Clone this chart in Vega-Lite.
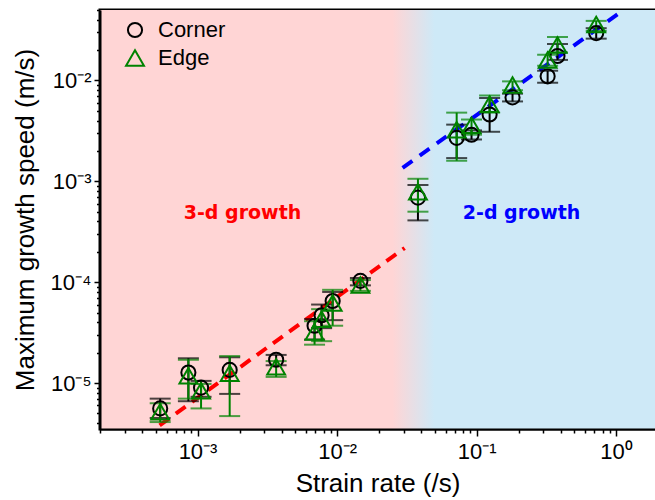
{
  "$schema": "https://vega.github.io/schema/vega-lite/v6.json",
  "width": 555,
  "height": 419,
  "autosize": "none",
  "padding": {"left": 100, "top": 10, "right": 0, "bottom": 71},
  "background": "white",
  "config": {"view": {"stroke": "black", "strokeWidth": 3}, "font": "Liberation Sans"},
  "datasets": {
    "pts": [
      {"series": "Corner", "x": 0.00054, "y": 0.0000056, "lo": 0.0000045, "hi": 0.000007},
      {"series": "Corner", "x": 0.00086, "y": 0.0000127, "lo": 0.0000066, "hi": 0.0000176},
      {"series": "Corner", "x": 0.00106, "y": 0.000009, "lo": 0.0000073, "hi": 0.0000105},
      {"series": "Corner", "x": 0.0017, "y": 0.0000135, "lo": 0.0000078, "hi": 0.000018},
      {"series": "Corner", "x": 0.00366, "y": 0.000017, "lo": 0.000015, "hi": 0.000019},
      {"series": "Corner", "x": 0.0069, "y": 0.000037, "lo": 0.000027, "hi": 0.000043},
      {"series": "Corner", "x": 0.00775, "y": 0.000047, "lo": 0.000035, "hi": 0.00006},
      {"series": "Corner", "x": 0.0093, "y": 0.000065, "lo": 0.000042, "hi": 0.00008},
      {"series": "Corner", "x": 0.0147, "y": 0.000103, "lo": 0.000093, "hi": 0.00011},
      {"series": "Corner", "x": 0.038, "y": 0.00069, "lo": 0.00041, "hi": 0.00092},
      {"series": "Corner", "x": 0.072, "y": 0.0027, "lo": 0.0017, "hi": 0.00365},
      {"series": "Corner", "x": 0.092, "y": 0.0029, "lo": 0.0026, "hi": 0.0032},
      {"series": "Corner", "x": 0.124, "y": 0.0046, "lo": 0.0031, "hi": 0.0067},
      {"series": "Corner", "x": 0.181, "y": 0.0068, "lo": 0.0062, "hi": 0.0074},
      {"series": "Corner", "x": 0.323, "y": 0.011, "lo": 0.0095, "hi": 0.0125},
      {"series": "Corner", "x": 0.38, "y": 0.0175, "lo": 0.016, "hi": 0.023},
      {"series": "Corner", "x": 0.72, "y": 0.0295, "lo": 0.026, "hi": 0.033},
      {"series": "Edge", "x": 0.00054, "y": 0.0000052, "lo": 0.0000041, "hi": 0.0000063},
      {"series": "Edge", "x": 0.00086, "y": 0.0000118, "lo": 0.000007, "hi": 0.000017},
      {"series": "Edge", "x": 0.00106, "y": 0.0000084, "lo": 0.0000056, "hi": 0.0000098},
      {"series": "Edge", "x": 0.0017, "y": 0.0000125, "lo": 0.0000047, "hi": 0.0000185},
      {"series": "Edge", "x": 0.00366, "y": 0.0000145, "lo": 0.0000115, "hi": 0.0000165},
      {"series": "Edge", "x": 0.0069, "y": 0.000032, "lo": 0.000024, "hi": 0.000041},
      {"series": "Edge", "x": 0.00775, "y": 0.000043, "lo": 0.000026, "hi": 0.000054},
      {"series": "Edge", "x": 0.0093, "y": 0.000062, "lo": 0.000037, "hi": 0.000084},
      {"series": "Edge", "x": 0.0147, "y": 0.000094, "lo": 0.000082, "hi": 0.000105},
      {"series": "Edge", "x": 0.038, "y": 0.00079, "lo": 0.0005, "hi": 0.00106},
      {"series": "Edge", "x": 0.072, "y": 0.00325, "lo": 0.0016, "hi": 0.0048},
      {"series": "Edge", "x": 0.092, "y": 0.0036, "lo": 0.0029, "hi": 0.0041},
      {"series": "Edge", "x": 0.124, "y": 0.0058, "lo": 0.0048, "hi": 0.0071},
      {"series": "Edge", "x": 0.181, "y": 0.009, "lo": 0.008, "hi": 0.0098},
      {"series": "Edge", "x": 0.323, "y": 0.016, "lo": 0.014, "hi": 0.018},
      {"series": "Edge", "x": 0.38, "y": 0.0225, "lo": 0.019, "hi": 0.027},
      {"series": "Edge", "x": 0.72, "y": 0.036, "lo": 0.031, "hi": 0.039}
    ]
  },
  "layer": [
    {
      "data": {"values": [{"x": 0.0002, "x2": 0.0256}]},
      "mark": {"type": "rect", "fill": "#ffd5d5"},
      "encoding": {
        "x": {
          "field": "x", "type": "quantitative", "title": "Strain rate (/s)",
          "scale": {"type": "log", "domain": [0.0002, 1.9], "nice": false},
          "axis": {
            "title": "Strain rate (/s)", "titleFont": "Liberation Sans", "titleFontSize": 26, "titleFontWeight": "normal", "titleColor": "black", "titlePadding": 8,
            "values": [0.0002,0.0003,0.0004,0.0005,0.0006,0.0007,0.0008,0.0009,0.001,0.002,0.003,0.004,0.005,0.006,0.007,0.008,0.009,0.01,0.02,0.03,0.04,0.05,0.06,0.07,0.08,0.09,0.1,0.2,0.3,0.4,0.5,0.6,0.7,0.8,0.9,1],
            "labelExpr": "abs(log(datum.value)/LN10 - round(log(datum.value)/LN10)) < 0.001 ? ['10⁻⁶','10⁻⁵','10⁻⁴','10⁻³','10⁻²','10⁻¹','10⁰'][round(log(datum.value)/LN10)+6] : ''",
            "labelFont": "Liberation Sans", "labelFontSize": 22, "labelColor": "black", "labelPadding": 5, "labelOverlap": false, "labelFlush": false, "labelBound": false,
            "tickSize": {"condition": {"test": "abs(log(datum.value)/LN10 - round(log(datum.value)/LN10)) < 0.001", "value": 7}, "value": 4},
            "tickColor": "black", "tickWidth": 1.5, "domainColor": "black", "domainWidth": 2, "grid": false, "zindex": 1
          }
        },
        "x2": {"field": "x2"}
      }
    },
    {
      "data": {"values": [{"x": 0.049, "x2": 1.9}]},
      "mark": {"type": "rect", "fill": "#cee9f7"},
      "encoding": {
        "x": {"field": "x", "type": "quantitative", "title": "Strain rate (/s)"},
        "x2": {"field": "x2"}
      }
    },
    {
      "data": {"values": [{"x": 0.025, "x2": 0.05}]},
      "mark": {"type": "rect", "fill": {"gradient": "linear", "x1": 0, "y1": 0, "x2": 1, "y2": 0, "stops": [{"offset": 0, "color": "#ffd5d5"}, {"offset": 1, "color": "#cee9f7"}]}},
      "encoding": {
        "x": {"field": "x", "type": "quantitative", "title": "Strain rate (/s)"},
        "x2": {"field": "x2"}
      }
    },
    {
      "data": {"values": [{"x": 0.000535, "y": 0.0000038}, {"x": 0.0305, "y": 0.000218}]},
      "mark": {"type": "line", "color": "#ff0000", "strokeWidth": 4, "strokeDash": [12, 8]},
      "encoding": {
        "x": {"field": "x", "type": "quantitative", "title": "Strain rate (/s)"},
        "y": {
          "field": "y", "type": "quantitative", "title": "Maximum growth speed (m/s)",
          "scale": {"type": "log", "domain": [0.0000035, 0.05], "nice": false},
          "axis": {
            "title": "Maximum growth speed (m/s)", "titleFont": "Liberation Sans", "titleFontSize": 26, "titleFontWeight": "normal", "titleColor": "black", "titlePadding": 12,
            "values": [0.000004,0.000005,0.000006,0.000007,0.000008,0.000009,0.00001,0.00002,0.00003,0.00004,0.00005,0.00006,0.00007,0.00008,0.00009,0.0001,0.0002,0.0003,0.0004,0.0005,0.0006,0.0007,0.0008,0.0009,0.001,0.002,0.003,0.004,0.005,0.006,0.007,0.008,0.009,0.01,0.02,0.03,0.04,0.05],
            "labelExpr": "abs(log(datum.value)/LN10 - round(log(datum.value)/LN10)) < 0.001 ? ['10⁻⁶','10⁻⁵','10⁻⁴','10⁻³','10⁻²','10⁻¹','10⁰'][round(log(datum.value)/LN10)+6] : ''",
            "labelFont": "Liberation Sans", "labelFontSize": 22, "labelColor": "black", "labelPadding": 3, "labelOverlap": false, "labelFlush": false, "labelBound": false,
            "tickSize": {"condition": {"test": "abs(log(datum.value)/LN10 - round(log(datum.value)/LN10)) < 0.001", "value": 6}, "value": 3.5},
            "tickColor": "black", "tickWidth": 1.5, "domainColor": "black", "domainWidth": 2, "grid": false, "zindex": 1
          }
        }
      }
    },
    {
      "data": {"values": [{"x": 0.0295, "y": 0.00136}, {"x": 1.07, "y": 0.0473}]},
      "mark": {"type": "line", "color": "#0000ff", "strokeWidth": 4, "strokeDash": [12, 9]},
      "encoding": {
        "x": {"field": "x", "type": "quantitative", "title": "Strain rate (/s)"},
        "y": {"field": "y", "type": "quantitative", "title": "Maximum growth speed (m/s)"}
      }
    },
    {
      "data": {"values": [{"x": 0.0021, "y": 0.000486, "label": "3-d growth"}]},
      "mark": {"type": "text", "font": "DejaVu Sans", "fontWeight": "bold", "fontSize": 19, "color": "#ff0000", "align": "center", "baseline": "middle"},
      "encoding": {
        "x": {"field": "x", "type": "quantitative", "title": "Strain rate (/s)"},
        "y": {"field": "y", "type": "quantitative", "title": "Maximum growth speed (m/s)"},
        "text": {"field": "label"}
      }
    },
    {
      "data": {"values": [{"x": 0.21, "y": 0.000486, "label": "2-d growth"}]},
      "mark": {"type": "text", "font": "DejaVu Sans", "fontWeight": "bold", "fontSize": 19, "color": "#0000ff", "align": "center", "baseline": "middle"},
      "encoding": {
        "x": {"field": "x", "type": "quantitative", "title": "Strain rate (/s)"},
        "y": {"field": "y", "type": "quantitative", "title": "Maximum growth speed (m/s)"},
        "text": {"field": "label"}
      }
    },
    {
      "data": {"name": "pts"},
      "transform": [{"filter": "datum.series === 'Corner'"}],
      "mark": {"type": "errorbar", "color": "#000000", "thickness": 2, "ticks": {"size": 21, "thickness": 2}},
      "encoding": {
        "x": {"field": "x", "type": "quantitative", "title": "Strain rate (/s)"},
        "y": {"field": "lo", "type": "quantitative", "title": "Maximum growth speed (m/s)"},
        "y2": {"field": "hi"}
      }
    },
    {
      "data": {"name": "pts"},
      "transform": [{"filter": "datum.series === 'Edge'"}],
      "mark": {"type": "errorbar", "color": "#008200", "thickness": 2, "ticks": {"size": 21, "thickness": 2}},
      "encoding": {
        "x": {"field": "x", "type": "quantitative", "title": "Strain rate (/s)"},
        "y": {"field": "lo", "type": "quantitative", "title": "Maximum growth speed (m/s)"},
        "y2": {"field": "hi"}
      }
    },
    {
      "data": {"name": "pts"},
      "mark": {"type": "point", "filled": false, "strokeWidth": 2, "opacity": 1},
      "encoding": {
        "x": {"field": "x", "type": "quantitative", "title": "Strain rate (/s)"},
        "y": {"field": "y", "type": "quantitative", "title": "Maximum growth speed (m/s)"},
        "color": {"field": "series", "type": "nominal", "scale": {"domain": ["Corner", "Edge"], "range": ["#000000", "#008200"]},
          "legend": {"title": null, "orient": "none", "legendX": 24, "legendY": 9, "labelFont": "Liberation Sans", "labelFontSize": 22, "labelColor": "black", "symbolStrokeWidth": 2, "rowPadding": 4, "labelOffset": 12}},
        "shape": {"field": "series", "type": "nominal", "scale": {"domain": ["Corner", "Edge"], "range": ["circle", "triangle-up"]},
          "legend": {"title": null, "orient": "none", "legendX": 24, "legendY": 9, "labelFont": "Liberation Sans", "labelFontSize": 22, "labelColor": "black", "symbolStrokeWidth": 2, "rowPadding": 4, "labelOffset": 12}},
        "size": {"field": "series", "type": "nominal", "scale": {"domain": ["Corner", "Edge"], "range": [200, 320]},
          "legend": {"title": null, "orient": "none", "legendX": 24, "legendY": 9, "labelFont": "Liberation Sans", "labelFontSize": 22, "labelColor": "black", "symbolStrokeWidth": 2, "rowPadding": 4, "labelOffset": 12}}
      }
    }
  ]
}
